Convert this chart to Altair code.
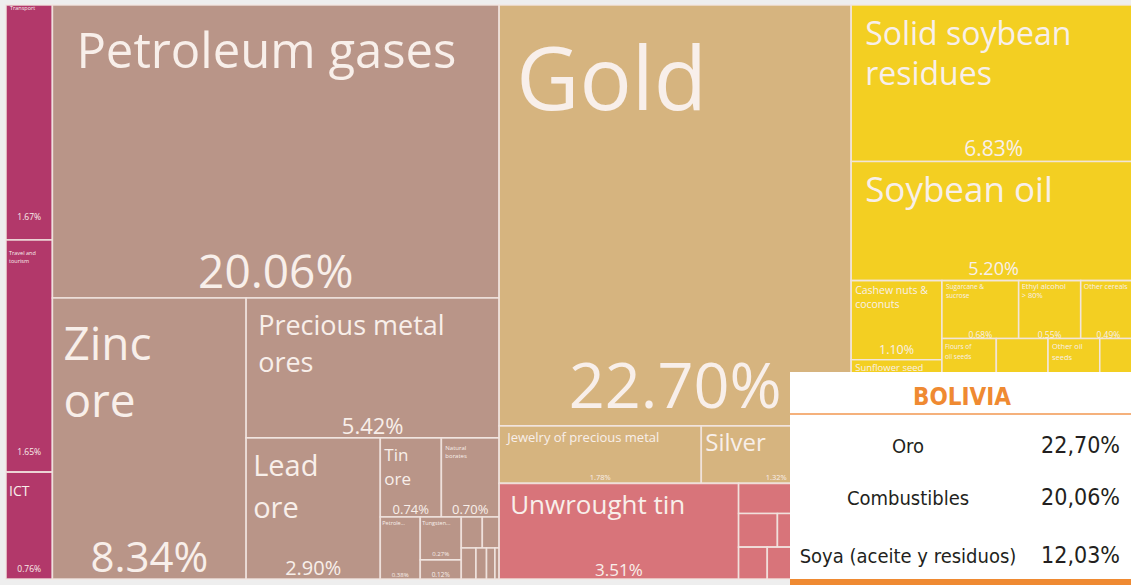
import textwrap
import altair as alt
import pandas as pd

# ---------------- data ----------------
cell_ids = ["s1", "s2", "s3",
            "m1", "m2", "m3", "m4", "m5", "m6", "m7", "m8", "m9",
            "m10", "m11", "m12", "m13", "m14", "m15",
            "p1", "p2", "p3",
            "t1", "t2", "t3", "t4", "t5", "t6", "t7", "t8", "t9",
            "v1", "v2", "v3", "v4", "v5", "v6", "v7", "v8", "v9", "v10",
            "v11", "v12", "v13", "v14", "v15", "v16", "v17", "v18", "v19"]
cell_names = ["Transport", "Travel and tourism", "ICT",
              "Petroleum gases", "Zinc ore", "Precious metal ores", "Lead ore",
              "Tin ore", "Natural borates", "Petroleum coke", "Tungsten ore", "",
              "", "", "", "", "", "",
              "Gold", "Jewelry of precious metal", "Silver",
              "Unwrought tin", "", "", "", "", "", "", "", "",
              "Solid soybean residues", "Soybean oil", "Cashew nuts & coconuts",
              "Sunflower seed", "", "", "Sugarcane & sucrose", "Ethyl alcohol > 80%",
              "Other cereals", "Flours of oil seeds", "", "Other oil seeds", "",
              "", "", "", "", "", ""]
cell_values = [1.67, 1.65, 0.76,
               20.06, 8.34, 5.42, 2.90, 0.74, 0.70, 0.38, 0.27, 0.12,
               0.10, 0.08, 0.07, 0.05, 0.04, 0.02,
               22.70, 1.78, 1.32,
               3.51, 0.52, 0.20, 0.38, 0.14, 0.18, 0.10, 0.08, 0.05,
               6.83, 5.20, 1.10, 0.95, 1.20, 0.90, 0.68, 0.55, 0.49, 0.42,
               0.40, 0.40, 0.28, 1.30, 1.00, 0.90, 1.00, 0.85, 0.60]
cell_groups = (["Services"] * 3 + ["Mineral Products"] * 15 + ["Precious Metals"] * 3
               + ["Metals"] * 9 + ["Vegetable Products"] * 19)

group_names = ["Services", "Mineral Products", "Precious Metals", "Metals", "Vegetable Products"]

table_labels = ["Oro", "Combustibles", "Soya (aceite y residuos)"]
table_values = ["22,70%", "20,06%", "12,03%"]
table_title = "BOLIVIA"

# ---------------- layout (slice structure of the treemap) ----------------
TREE = ("h", [
    ("v", ["s1", "s2", "s3"]),
    ("v", ["m1", ("h", ["m2", ("v", ["m3", ("h", ["m4", ("v", [
        ("h", ["m5", "m6"]),
        ("h", ["m7", ("v", ["m8", "m9"]),
               ("v", [("h", ["m10", "m11"]), ("h", ["m12", "m13", "m14", "m15"])])])])])])])]),
    ("v", ["p1", ("h", ["p2", "p3"]),
           ("h", ["t1", ("v", ["t2", ("h", ["t3", "t4"]),
                               ("h", ["t5", "t6", ("v", ["t7", "t8", "t9"])])])])]),
    ("v", ["v1", "v2", ("h", [("v", ["v3", "v4", "v5", "v6"]),
                              ("v", [("h", ["v7", "v8", "v9"]),
                                     ("h", ["v10", "v11", "v12", "v13"]),
                                     ("h", ["v14", "v15", "v16"]),
                                     ("h", ["v17", "v18", "v19"])])])]),
])
AREA = (6, 5, 1136, 579)
W, H = 1131, 585

val = dict(zip(cell_ids, cell_values))


def total(node):
    if isinstance(node, str):
        return val[node]
    return sum(total(k) for k in node[1])


def layout(node, x0, y0, x1, y1, out):
    if isinstance(node, str):
        out[node] = (x0, y0, x1, y1)
        return
    orient, kids = node
    sums = [total(k) for k in kids]
    T = sum(sums)
    pos = x0 if orient == "h" else y0
    for k, s in zip(kids, sums):
        if orient == "h":
            w = (x1 - x0) * s / T
            layout(k, pos, y0, pos + w, y1, out)
            pos += w
        else:
            h = (y1 - y0) * s / T
            layout(k, x0, pos, x1, pos + h, out)
            pos += h


rects = {}
layout(TREE, *AREA, rects)

cells = pd.DataFrame({
    "id": cell_ids, "name": cell_names, "value": cell_values, "group": cell_groups,
})
cells["x0"] = [rects[i][0] for i in cell_ids]
cells["y0"] = [rects[i][1] for i in cell_ids]
cells["x1"] = [rects[i][2] for i in cell_ids]
cells["y1"] = [rects[i][3] for i in cell_ids]

# ---------------- label styles ----------------
# id: (font size, dx, first baseline dy, line height, wrap width, truncate)
NAME_STYLE = {
    "s1": (5.5, 4, 5, 7, 20, 0), "s2": (5.5, 3, 15, 8, 10, 0), "s3": (14, 3, 24, 16, 20, 0),
    "m1": (49, 24, 63, 55, 30, 0), "m2": (46, 11, 62, 57, 5, 0), "m3": (27, 12, 37, 37, 14, 0),
    "m4": (29, 7, 38, 42, 5, 0), "m5": (17, 4, 23, 24, 4, 0), "m6": (6, 4, 12, 8, 8, 0),
    "m7": (5.5, 2, 8, 7, 30, 7), "m8": (5.5, 2, 8, 7, 30, 8),
    "p1": (87, 17, 105, 90, 30, 0), "p2": (13, 8, 16, 16, 30, 0), "p3": (24, 4, 25, 26, 30, 0),
    "t1": (26, 11, 31, 30, 30, 0),
    "v1": (32, 14, 40, 40, 13, 0), "v2": (35, 14, 40, 40, 30, 0), "v3": (10.5, 4, 13, 14, 13, 0),
    "v4": (9.5, 4, 11, 12, 30, 0), "v7": (6.5, 4, 8, 9, 11, 0), "v8": (7.5, 3, 8, 9, 13, 0),
    "v9": (7, 3, 8, 9, 30, 0), "v10": (6.5, 3, 10, 10, 9, 0), "v12": (7.5, 4, 10, 11, 9, 0),
}
# id: (font size, distance of baseline above the cell bottom)
PCT_STYLE = {
    "s1": (8.5, 20), "s2": (8.5, 17), "s3": (8.5, 7),
    "m1": (46, 10), "m2": (42, 7), "m3": (22, 4), "m4": (20, 4), "m5": (13, 3), "m6": (13, 3),
    "m7": (6, 2), "m8": (6, 4), "m9": (6.5, 2),
    "p1": (63, 18), "p2": (7.5, 3), "p3": (7.5, 3), "t1": (17, 3),
    "v1": (21, 6), "v2": (18, 6), "v3": (12.5, 6), "v7": (8.5, 1), "v8": (8.5, 1), "v9": (8.5, 1),
}

name_rows, pct_rows = [], []
for _, r in cells.iterrows():
    if r["id"] in NAME_STYLE:
        size, dx, dy, lh, wrap, trunc = NAME_STYLE[r["id"]]
        text = r["name"] if not trunc else r["name"][:trunc] + "..."
        for i, line in enumerate(textwrap.wrap(text, wrap)):
            name_rows.append({"x": r["x0"] + dx, "y": r["y0"] + dy + i * lh,
                              "text": line, "size": size})
    if r["id"] in PCT_STYLE:
        size, b = PCT_STYLE[r["id"]]
        pct_rows.append({"x": (r["x0"] + r["x1"]) / 2, "y": r["y1"] - b,
                         "text": f"{r['value']:.2f}%", "size": size})
names_df = pd.DataFrame(name_rows)
pcts_df = pd.DataFrame(pct_rows)

TABLE_X0, TABLE_X1, TABLE_Y0 = 790, 1131, 372
TABLE_BASELINES = [453, 505, 563]
table_df = pd.DataFrame({"label": table_labels, "value": table_values, "y": TABLE_BASELINES})

xs = alt.Scale(domain=[0, W], nice=False, zero=False)
ys = alt.Scale(domain=[0, H], nice=False, zero=False, reverse=True)

colors = ["#B2386A", "#B99588", "#D6B47F", "#D8747A", "#F3CF22"]

cells_layer = alt.Chart(cells).mark_rect(stroke="#F2E6E1", strokeWidth=1.6, strokeOpacity=0.9).encode(
    x=alt.X("x0:Q", scale=xs, axis=None), x2="x1:Q",
    y=alt.Y("y0:Q", scale=ys, axis=None), y2="y1:Q",
    color=alt.Color("group:N", scale=alt.Scale(domain=group_names, range=colors), legend=None),
)

TEXT_FONT = "Open Sans, Lato, sans-serif"
names_layer = alt.Chart(names_df).mark_text(
    align="left", baseline="alphabetic", font=TEXT_FONT, fontWeight="normal", color="#F8EFEA"
).encode(
    x=alt.X("x:Q", scale=xs, axis=None), y=alt.Y("y:Q", scale=ys, axis=None),
    text="text:N", size=alt.Size("size:Q", scale=None, legend=None),
)
pcts_layer = alt.Chart(pcts_df).mark_text(
    align="center", baseline="alphabetic", font=TEXT_FONT, fontWeight="normal", color="#F8EFEA"
).encode(
    x=alt.X("x:Q", scale=xs, axis=None), y=alt.Y("y:Q", scale=ys, axis=None),
    text="text:N", size=alt.Size("size:Q", scale=None, legend=None),
)

TABLE_FONT = "Liberation Sans Narrow, DejaVu Sans Condensed, Roboto, sans-serif"
table_bg = alt.Chart(table_df).mark_rect(color="white").encode(
    x=alt.value(TABLE_X0), x2=alt.value(TABLE_X1), y=alt.value(TABLE_Y0), y2=alt.value(H))
table_line = alt.Chart(table_df).mark_rule(color="#F4B07A", strokeWidth=1.5).encode(
    x=alt.value(TABLE_X0), x2=alt.value(TABLE_X1), y=alt.value(414))
table_bar = alt.Chart(table_df).mark_rect(color="#EF8A32").encode(
    x=alt.value(TABLE_X0), x2=alt.value(TABLE_X1), y=alt.value(579), y2=alt.value(H))
table_head = alt.Chart(pd.DataFrame({"t": [table_title]})).mark_text(
    align="center", baseline="alphabetic", font=TABLE_FONT, fontWeight="bold",
    fontSize=24, color="#EF8A32"
).encode(x=alt.value(962), y=alt.value(405), text="t:N")
table_lab = alt.Chart(table_df).mark_text(
    align="center", baseline="alphabetic", font=TABLE_FONT, fontSize=20, color="#231F20"
).encode(x=alt.value(908), y=alt.Y("y:Q", scale=ys, axis=None), text="label:N")
table_val = alt.Chart(table_df).mark_text(
    align="right", baseline="alphabetic", font=TABLE_FONT, fontSize=23, color="#231F20"
).encode(x=alt.value(1120), y=alt.Y("y:Q", scale=ys, axis=None), text="value:N")

chart = alt.layer(
    cells_layer, names_layer, pcts_layer,
    table_bg, table_line, table_bar, table_head, table_lab, table_val,
).properties(
    width=W, height=H, background="#EEEEEE", padding=0,
    autosize=alt.AutoSizeParams(type="none"),
).configure_view(stroke=None)

chart.save("out.html", embed_options={"renderer": "svg", "actions": False})
